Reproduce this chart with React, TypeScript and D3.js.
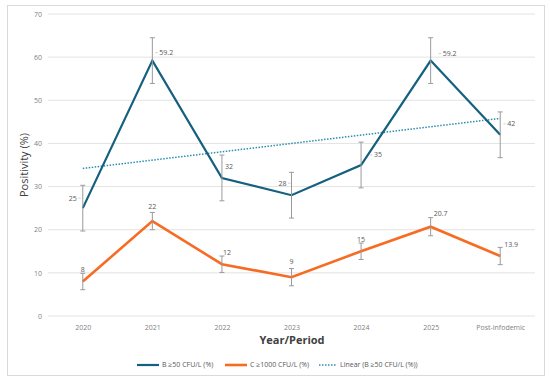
import { useEffect, useRef } from "react";
import * as d3 from "d3";

const categories = ["2020", "2021", "2022", "2023", "2024", "2025", "Post-infodemic"];
const seriesB = [25, 59.2, 32, 28, 35, 59.2, 42];
const errorB = [5.3, 5.3, 5.3, 5.3, 5.3, 5.3, 5.3];
const seriesC = [8, 22, 12, 9, 15, 20.7, 13.9];
const errorC = [1.9, 2, 1.9, 2, 1.9, 2.1, 2];
// trendline end values (Linear, B series) as drawn in the original
const trendB = [34.2, 45.8];
const yTicks = [0, 10, 20, 30, 40, 50, 60, 70];
const legendLabels = ["B ≥50 CFU/L (%)", "C ≥1000 CFU/L (%)", "Linear (B ≥50 CFU/L (%))"];

// label placement (dx, dy, anchor) relative to each point
const labelPosB: [number, number, string][] = [
  [-6, -10, "end"], [7, -8, "start"], [3, -11, "start"], [-5, -12, "end"],
  [13, -10, "start"], [12, -7, "start"], [7, -11, "start"],
];
const labelPosC: [number, number, string][] = [
  [0, -12, "middle"], [0, -15, "middle"], [1, -12, "start"], [0, -16, "middle"],
  [0, -12, "middle"], [3, -13, "start"], [4, -11, "start"],
];

const BLUE = "#15607f";
const ORANGE = "#f66c22";
const TREND = "#2a8eb0";
const FONT = "'Open Sans', Lato, sans-serif";

export default function App() {
  const svgRef = useRef<SVGSVGElement>(null);

  useEffect(() => {
    if (!svgRef.current) return;
    const svg = d3.select(svgRef.current);
    svg.selectAll("*").remove();

    const left = 48;
    const right = 535;
    const top = 14;
    const bottom = 316;

    svg
      .append("rect")
      .attr("x", 7.5)
      .attr("y", 5.5)
      .attr("width", 537)
      .attr("height", 370)
      .attr("fill", "#fff")
      .attr("stroke", "#d9d9d9");

    const x = d3.scalePoint<string>().domain(categories).range([left, right]).padding(0.5);
    const y = d3.scaleLinear().domain([0, 70]).range([bottom, top]);

    // grid
    svg
      .append("g")
      .selectAll("line")
      .data(yTicks)
      .enter()
      .append("line")
      .attr("x1", left)
      .attr("x2", right)
      .attr("y1", (d) => y(d))
      .attr("y2", (d) => y(d))
      .attr("stroke", "#e3e3e3")
      .attr("stroke-width", 1);

    const yAxis = svg
      .append("g")
      .attr("transform", `translate(${left},0)`)
      .call(d3.axisLeft(y).tickValues(yTicks).tickSize(0).tickPadding(6));
    yAxis.select(".domain").remove();
    yAxis.selectAll("text").style("font-size", "7px").style("font-family", FONT).attr("fill", "#7f7f7f");

    const xAxis = svg
      .append("g")
      .attr("transform", `translate(0,${bottom})`)
      .call(d3.axisBottom(x).tickSize(0).tickPadding(9));
    xAxis.select(".domain").remove();
    xAxis.selectAll("text").style("font-size", "7px").style("font-family", FONT).attr("fill", "#7f7f7f");

    // axis titles
    svg
      .append("text")
      .attr("x", 292)
      .attr("y", 344)
      .attr("text-anchor", "middle")
      .style("font-family", FONT)
      .style("font-size", "11px")
      .style("font-weight", "bold")
      .attr("fill", "#404040")
      .text("Year/Period");
    svg
      .append("text")
      .attr("transform", `translate(28,${(top + bottom) / 2}) rotate(-90)`)
      .attr("text-anchor", "middle")
      .style("font-family", FONT)
      .style("font-size", "11px")
      .attr("fill", "#404040")
      .text("Positivity (%)");

    // trendline
    svg
      .append("line")
      .attr("x1", x(categories[0])!)
      .attr("x2", x(categories[categories.length - 1])!)
      .attr("y1", y(trendB[0]))
      .attr("y2", y(trendB[1]))
      .attr("stroke", TREND)
      .attr("stroke-width", 1.5)
      .attr("stroke-dasharray", "1.5,1.5");

    const line = d3
      .line<number>()
      .x((_d, i) => x(categories[i])!)
      .y((d) => y(d));

    const drawSeries = (
      vals: number[],
      errs: number[],
      color: string,
      width: number,
      pos: [number, number, string][]
    ) => {
      const g = svg.append("g");
      g.append("path")
        .datum(vals)
        .attr("d", line)
        .attr("fill", "none")
        .attr("stroke", color)
        .attr("stroke-width", width)
        .attr("stroke-linejoin", "miter");

      const eb = g
        .selectAll("g.err")
        .data(vals)
        .enter()
        .append("g")
        .attr("class", "err");
      eb.append("line")
        .attr("x1", (_d, i) => x(categories[i])!)
        .attr("x2", (_d, i) => x(categories[i])!)
        .attr("y1", (d, i) => y(d + errs[i]))
        .attr("y2", (d, i) => y(d - errs[i]))
        .attr("stroke", "#9a9a9a")
        .attr("stroke-width", 1);
      [1, -1].forEach((s) => {
        eb.append("line")
          .attr("x1", (_d, i) => x(categories[i])! - 2.5)
          .attr("x2", (_d, i) => x(categories[i])! + 2.5)
          .attr("y1", (d, i) => y(d + s * errs[i]))
          .attr("y2", (d, i) => y(d + s * errs[i]))
          .attr("stroke", "#9a9a9a")
          .attr("stroke-width", 1);
      });

      // small leader ticks next to labels
      g.selectAll("line.lead")
        .data(vals)
        .enter()
        .append("line")
        .attr("class", "lead")
        .attr("x1", (_d, i) => x(categories[i])! + pos[i][0] - Math.sign(pos[i][0]) * 4)
        .attr("y1", (d, i) => y(d) + pos[i][1])
        .attr("x2", (_d, i) => x(categories[i])! + pos[i][0] - Math.sign(pos[i][0]) * 1.5)
        .attr("y2", (d, i) => y(d) + pos[i][1])
        .attr("stroke", "#b5b5b5")
        .attr("stroke-width", 0.6)
        .attr("opacity", (_d, i) => (pos[i][2] === "middle" || Math.abs(pos[i][0]) < 5 ? 0 : 1));

      g.selectAll("text.lbl")
        .data(vals)
        .enter()
        .append("text")
        .attr("class", "lbl")
        .attr("x", (_d, i) => x(categories[i])! + pos[i][0])
        .attr("y", (d, i) => y(d) + pos[i][1])
        .attr("dy", "0.35em")
        .attr("text-anchor", (_d, i) => pos[i][2])
        .style("font-family", FONT)
        .style("font-size", "7px")
        .attr("fill", "#595959")
        .text((d) => String(d));
    };

    drawSeries(seriesB, errorB, BLUE, 2.2, labelPosB);
    drawSeries(seriesC, errorC, ORANGE, 2.6, labelPosC);

    // legend
    const legend = svg.append("g").attr("transform", "translate(0,365)");
    const items = [
      { x0: 137, x1: 159, color: BLUE, w: 2.2, dash: null as string | null },
      { x0: 225, x1: 247, color: ORANGE, w: 2.6, dash: null },
      { x0: 319, x1: 337, color: TREND, w: 1.5, dash: "1.5,1.5" },
    ];
    items.forEach((it, i) => {
      legend
        .append("line")
        .attr("x1", it.x0)
        .attr("x2", it.x1)
        .attr("y1", 0)
        .attr("y2", 0)
        .attr("stroke", it.color)
        .attr("stroke-width", it.w)
        .attr("stroke-dasharray", it.dash);
      legend
        .append("text")
        .attr("x", it.x1 + 3)
        .attr("y", 0)
        .attr("dy", "0.35em")
        .style("font-family", FONT)
        .style("font-size", "7px")
        .attr("fill", "#595959")
        .text(legendLabels[i]);
    });
  }, []);

  return (
    <svg
      ref={svgRef}
      width={550}
      height={383}
      style={{ position: "absolute", left: 0, top: 0, display: "block", background: "#fff" }}
    />
  );
}
